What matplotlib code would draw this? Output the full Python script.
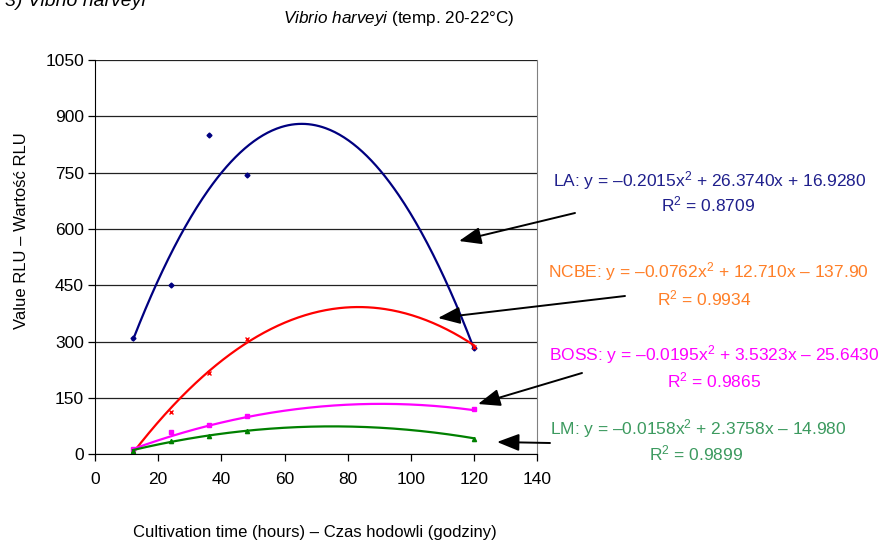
import numpy as np
import matplotlib
matplotlib.use("Agg")
import matplotlib.pyplot as plt
from matplotlib.patches import FancyArrowPatch

plt.rcParams['font.family'] = ['Liberation Sans', 'DejaVu Sans']
plt.rcParams['mathtext.fontset'] = 'custom'
plt.rcParams['mathtext.rm'] = 'Liberation Sans'
plt.rcParams['mathtext.it'] = 'Liberation Sans:italic'

# Measurement times (hours)
hours = [12, 24, 36, 48, 120]

# Measured values (RLU)
la_vals = [311, 450, 850, 745, 284]
ncbe_vals = [8, 112, 217, 306, 286]
boss_vals = [13, 59, 77, 102, 121]
lm_vals = [8, 35, 49, 62, 40]

# Polynomial trendline coefficients (as printed on the chart: a, b, c)
la_coef = [-0.2015, 26.3740, 16.9280]
ncbe_coef = [-0.0762, 12.710, -137.90]
boss_coef = [-0.0195, 3.5323, -25.6430]
lm_coef = [-0.0158, 2.3758, -14.980]

# Equation labels
la_eq = "LA: y = –0.2015x$^2$ + 26.3740x + 16.9280"
la_r2 = "R$^2$ = 0.8709"
ncbe_eq = "NCBE: y = –0.0762x$^2$ + 12.710x – 137.90"
ncbe_r2 = "R$^2$ = 0.9934"
boss_eq = "BOSS: y = –0.0195x$^2$ + 3.5323x – 25.6430"
boss_r2 = "R$^2$ = 0.9865"
lm_eq = "LM: y = –0.0158x$^2$ + 2.3758x – 14.980"
lm_r2 = "R$^2$ = 0.9899"

W, H = 885, 544
fig = plt.figure(figsize=(W / 100, H / 100), dpi=100)
ax = fig.add_axes([95 / W, 1 - 454.3 / H, (537.3 - 95) / W, (454.3 - 60) / H])

xs = np.linspace(hours[0], hours[-1], 300)
series = [
    (la_vals, la_coef, '#000080', 'D', 2.5),
    (ncbe_vals, ncbe_coef, '#FF0000', 'x', 3.5),
    (boss_vals, boss_coef, '#FF00FF', 's', 3),
    (lm_vals, lm_coef, '#008000', '^', 3),
]
for vals, coef, col, mk, ms in series:
    ax.plot(hours, vals, linestyle='none', marker=mk, color=col, markersize=ms,
            markeredgewidth=1.0)
    ax.plot(xs, np.polyval(coef, xs), color=col, lw=1.6)

ax.set_xlim(0, 140)
ax.set_ylim(0, 1050)
ax.set_xticks(np.arange(0, 141, 20))
ax.set_yticks(np.arange(0, 1051, 150))
ax.yaxis.grid(True, color='#222222', lw=0.9)
ax.set_axisbelow(True)
ax.tick_params(labelsize=12.5, direction='out', length=5, width=0.9, colors='black')
ax.tick_params(axis='x', pad=8)
ax.tick_params(axis='y', pad=3)
ax.spines['top'].set_visible(False)
ax.spines['right'].set_color('#808080')
ax.spines['left'].set_color('black')
ax.spines['bottom'].set_color('black')

def ftext(x, y, s, **kw):
    fig.text(x / W, 1 - y / H, s, ha='center', va='center', **kw)

ftext(315, 532, "Cultivation time (hours) – Czas hodowli (godziny)", fontsize=12)
fig.text(22 / W, 1 - 231 / H, "Value RLU – Wartość RLU", rotation=90,
         ha='center', va='center', fontsize=12)
fig.text(399 / W, 1 - 18 / H, r"$\it{Vibrio\ harveyi}$ (temp. 20-22°C)",
         ha='center', va='center', fontsize=12.3)
fig.text(5 / W, 1 - 1 / H, "3) Vibrio harveyi", ha='left', va='center',
         fontsize=14, style='italic')

eq_fs = 12.5
ftext(710, 181, la_eq, fontsize=eq_fs, color='#1F1F8C')
ftext(708, 204, la_r2, fontsize=eq_fs, color='#1F1F8C')
ftext(708, 272, ncbe_eq, fontsize=eq_fs, color='#FF7F27')
ftext(704, 298, ncbe_r2, fontsize=eq_fs, color='#FF7F27')
ftext(714, 355, boss_eq, fontsize=eq_fs, color='#FF00FF')
ftext(714, 380, boss_r2, fontsize=eq_fs, color='#FF00FF')
ftext(698, 429, lm_eq, fontsize=eq_fs, color='#3C9A5F')
ftext(696, 453, lm_r2, fontsize=eq_fs, color='#3C9A5F')

arrows = [((575, 213), (459, 241)), ((625, 296), (438, 318)),
          ((582, 373), (478, 404)), ((550, 443), (497, 442))]
for (tx, ty), (hx, hy) in arrows:
    fig.add_artist(FancyArrowPatch(
        posA=(tx, H - ty), posB=(hx, H - hy), transform=None,
        arrowstyle='-|>,head_length=0.9,head_width=0.35', mutation_scale=15,
        lw=1.4, color='black', shrinkA=0, shrinkB=0))

fig.savefig("out.png", dpi=100)
